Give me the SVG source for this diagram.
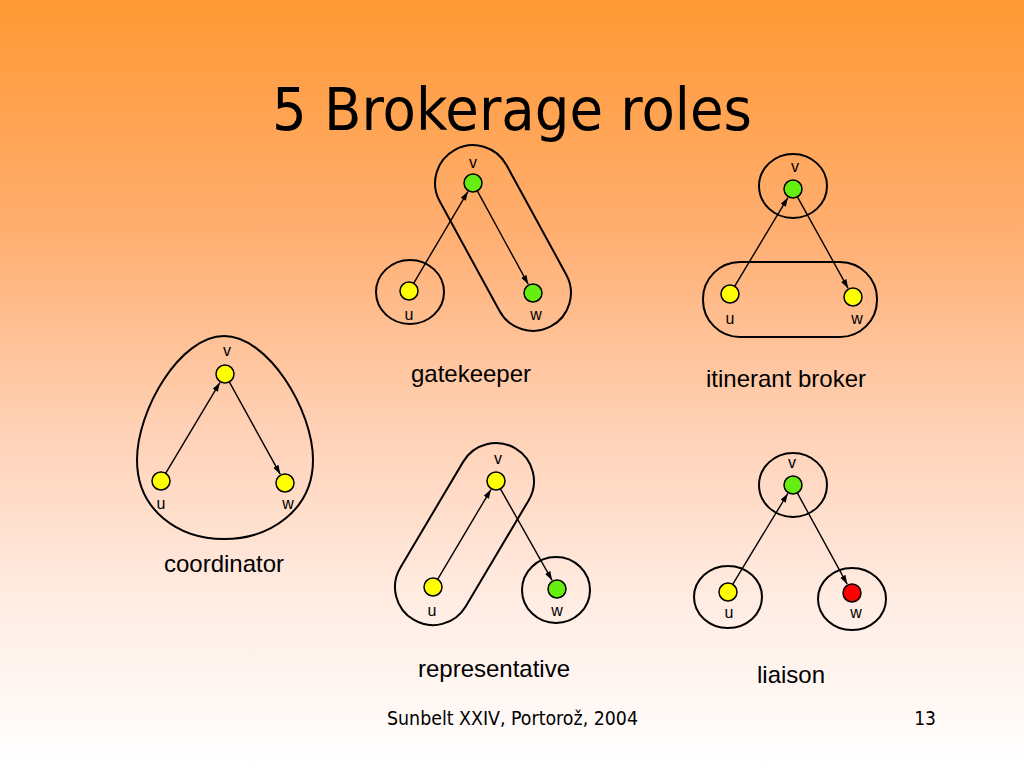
<svg xmlns="http://www.w3.org/2000/svg" width="1024" height="768" viewBox="0 0 1024 768">
<defs>
<linearGradient id="bg" x1="0" y1="0" x2="0" y2="1">
<stop offset="0" stop-color="#FF9933"/>
<stop offset="0.3" stop-color="#FFAE70"/>
<stop offset="0.55" stop-color="#FFD0B4"/>
<stop offset="0.8" stop-color="#FFEEE6"/>
<stop offset="1" stop-color="#FFFFFF"/>
</linearGradient>
<marker id="ah" markerUnits="userSpaceOnUse" markerWidth="10" markerHeight="7" refX="9" refY="3" orient="auto">
<path d="M0,0 L9,3 L0,6 z" fill="#000"/>
</marker>
</defs>
<style>
.grp{fill:none;stroke:#000;stroke-width:2}
.node{stroke:#000;stroke-width:1.5}
.y{fill:#FFFF00}
.g{fill:#66EE11}
.r{fill:#FF0000}
.edge{stroke:#000;stroke-width:1.4;fill:none;marker-end:url(#ah)}
.lbl{font-family:"Liberation Sans",Arial,sans-serif;font-size:16px;fill:#000;text-anchor:middle}
.cap{font-family:"Liberation Sans",Arial,sans-serif;font-size:24px;fill:#000;text-anchor:middle}
.tah{font-family:"DejaVu Sans Condensed","DejaVu Sans",sans-serif;fill:#000}
</style>
<rect x="0" y="0" width="1024" height="768" fill="url(#bg)"/>
<text class="tah" x="272" y="130" font-size="58" textLength="480" lengthAdjust="spacingAndGlyphs">5 Brokerage roles</text>

<g id="groups">
<!-- gatekeeper -->
<ellipse class="grp" cx="410" cy="292" rx="34" ry="32"/>
<rect class="grp" x="-100.5" y="-38" width="201" height="76" rx="38" ry="38" transform="translate(503,238) rotate(61.4)"/>
<!-- itinerant -->
<ellipse class="grp" cx="793" cy="186" rx="34" ry="32"/>
<rect class="grp" x="703" y="262" width="174" height="75" rx="37" ry="37"/>
<!-- coordinator -->
<path class="grp" d="M224,336 C268,336 313,410 313,460 C313,510 270,539 224,539 C178,539 137,510 137,460 C137,410 180,336 224,336 Z"/>
<!-- representative -->
<rect class="grp" x="-99.7" y="-38" width="199.3" height="76" rx="38" ry="38" transform="translate(464.5,534) rotate(-59.3)"/>
<ellipse class="grp" cx="556" cy="590" rx="34" ry="33"/>
<!-- liaison -->
<ellipse class="grp" cx="793" cy="485" rx="34" ry="32"/>
<ellipse class="grp" cx="728" cy="597" rx="34" ry="31"/>
<ellipse class="grp" cx="852" cy="599" rx="34" ry="31"/>
</g>

<g id="connectors">
<line class="edge" x1="413.6" y1="283.3" x2="467.9" y2="191.6"/>
<line class="edge" x1="477.3" y1="190.9" x2="528.2" y2="284.2"/>
<line class="edge" x1="734.6" y1="286.3" x2="787.9" y2="197.6"/>
<line class="edge" x1="797.4" y1="196.9" x2="848.1" y2="288.3"/>
<line class="edge" x1="165.6" y1="473.3" x2="219.9" y2="382.6"/>
<line class="edge" x1="229.3" y1="381.9" x2="280.2" y2="474.2"/>
<line class="edge" x1="437.6" y1="579.3" x2="490.9" y2="489.6"/>
<line class="edge" x1="500.4" y1="488.8" x2="552.1" y2="580.3"/>
<line class="edge" x1="732.7" y1="584.3" x2="787.8" y2="493.5"/>
<line class="edge" x1="797.3" y1="492.9" x2="847.2" y2="584.2"/>
</g>

<g id="gatekeeper">
<circle id="gk-u" class="node y" cx="409" cy="291" r="9"/>
<circle id="gk-v" class="node g" cx="473" cy="183" r="9"/>
<circle id="gk-w" class="node g" cx="533" cy="293" r="9"/>
<text class="lbl" x="473" y="168">v</text>
<text class="lbl" x="409" y="320">u</text>
<text class="lbl" x="536" y="320">w</text>
<text class="cap" x="471" y="382">gatekeeper</text>
</g>

<g id="itinerant-broker">
<circle id="ib-u" class="node y" cx="730" cy="294" r="9"/>
<circle id="ib-v" class="node g" cx="793" cy="189" r="9"/>
<circle id="ib-w" class="node y" cx="853" cy="297" r="9"/>
<text class="lbl" x="795" y="172">v</text>
<text class="lbl" x="730" y="324">u</text>
<text class="lbl" x="857" y="324">w</text>
<text class="cap" x="786" y="387">itinerant broker</text>
</g>

<g id="coordinator">
<circle id="co-u" class="node y" cx="161" cy="481" r="9"/>
<circle id="co-v" class="node y" cx="225" cy="374" r="9"/>
<circle id="co-w" class="node y" cx="285" cy="483" r="9"/>
<text class="lbl" x="227" y="356">v</text>
<text class="lbl" x="161" y="509">u</text>
<text class="lbl" x="288" y="509">w</text>
<text class="cap" x="224" y="572">coordinator</text>
</g>

<g id="representative">
<circle id="re-u" class="node y" cx="433" cy="587" r="9"/>
<circle id="re-v" class="node y" cx="496" cy="481" r="9"/>
<circle id="re-w" class="node g" cx="557" cy="589" r="9"/>
<text class="lbl" x="498" y="464">v</text>
<text class="lbl" x="432" y="616">u</text>
<text class="lbl" x="557" y="616">w</text>
<text class="cap" x="494" y="677">representative</text>
</g>

<g id="liaison">
<circle id="li-u" class="node y" cx="728" cy="592" r="9"/>
<circle id="li-v" class="node g" cx="793" cy="485" r="9"/>
<circle id="li-w" class="node r" cx="852" cy="593" r="9"/>
<text class="lbl" x="792" y="468">v</text>
<text class="lbl" x="729" y="618">u</text>
<text class="lbl" x="856" y="618">w</text>
<text class="cap" x="791" y="683">liaison</text>
</g>

<text class="tah" x="387" y="725" font-size="19" textLength="251" lengthAdjust="spacingAndGlyphs">Sunbelt XXIV, Portorož, 2004</text>
<text class="tah" x="936" y="725" font-size="19" text-anchor="end">13</text>
</svg>
